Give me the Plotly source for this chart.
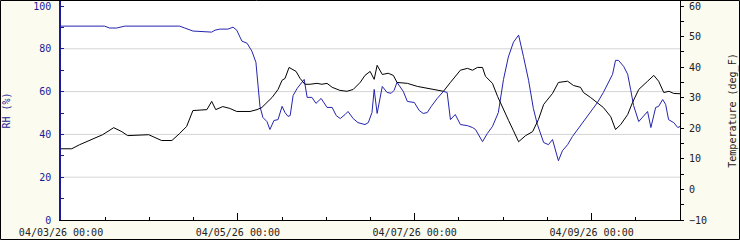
import pandas as pd
import plotly.graph_objects as go

# ---- data ----
start = "2026-04-03 00:00"

temp_hours = [0, 2.9, 5.0, 8.6, 11.3, 14.3, 16.5, 18.1, 23.8, 27.3, 30.1, 32.2, 34.1, 35.8, 39.6,
              40.9, 42.0, 43.9, 45.8, 47.7, 51.3, 53.2, 54.5, 57.3, 58.9, 60.0, 60.8, 61.9, 63.8,
              64.9, 66.2, 67.6, 69.5, 70.8, 72.2, 73.6, 75.7, 77.6, 79.3, 81.2, 82.5, 83.9, 85.0,
              85.8, 87.2, 88.8, 90.2, 91.2, 94.0, 96.7, 99.4, 102.1, 103.8, 105.7, 107.6, 108.4,
              110.3, 111.7, 113.0, 114.4, 115.2, 117.1, 118.5, 119.8, 121.5, 122.8, 124.2, 126.1,
              128.0, 129.6, 131.0, 133.4, 135.0, 137.5, 139.1, 141.0, 141.8, 143.7, 145.6, 147.2,
              149.2, 150.5, 151.9, 153.8, 155.1, 156.8, 159.2, 160.9, 162.2, 163.6, 165.0, 166.3,
              168.0]
temp_f = [13.3, 13.3, 14.6, 16.6, 17.9, 20.2, 18.9, 17.6, 17.9, 16.0, 16.0, 18.3, 20.6, 25.8, 26.1,
          28.8, 26.1, 27.1, 26.5, 25.5, 25.5, 26.1, 26.8, 30.1, 32.7, 35.7, 36.3, 39.9, 38.6,
          36.3, 34.4, 34.4, 34.7, 34.4, 34.7, 33.4, 32.4, 32.1, 32.7, 35.0, 37.3, 38.6, 36.0,
          40.6, 37.6, 38.0, 37.3, 35.0, 34.7, 33.7, 33.0, 32.4, 32.1, 35.0, 37.6, 39.0,
          39.6, 39.0, 39.9, 39.9, 37.0, 34.7, 30.4, 26.8, 22.5, 19.2, 15.6, 17.6,
          18.9, 22.9, 27.8, 31.4, 35.0, 35.4, 34.0, 33.4, 31.7, 30.1, 28.4, 26.8,
          23.8, 19.6, 21.2, 24.5, 28.4, 32.7, 35.4, 37.3, 35.4, 31.7, 32.1, 31.4,
          31.3]

rh_hours = [0, 11.8, 13.2, 15.1, 17.3, 32.2, 33.6, 35.8, 40.9, 41.8, 43.1, 45.3, 46.7, 47.7, 48.6,
            49.1, 50.5, 51.8, 52.9, 53.4, 54.0, 54.8, 55.9, 56.7, 57.8, 58.9, 60.0, 60.8, 61.6,
            62.2, 63.0, 64.1, 64.9, 66.0, 66.8, 68.1, 69.2, 70.6, 72.2, 73.6, 74.7, 75.8, 77.1,
            77.9, 79.3, 80.6, 82.5, 83.4, 84.4, 85.0, 85.8, 87.2, 88.5, 89.6, 90.4, 91.2, 92.9,
            94.0, 95.9, 97.2, 98.3, 99.4, 100.5, 102.1, 103.8, 104.8, 105.7, 107.0, 108.4, 110.3,
            111.7, 112.5, 114.4, 115.7, 117.1, 118.7, 120.1, 121.4, 122.8, 124.2, 125.5, 126.9,
            128.2, 129.3, 131.0, 132.3, 133.4, 134.2, 135.0, 136.1, 137.5, 138.8, 140.2, 141.8,
            143.7, 145.6, 147.2, 148.6, 149.7, 150.5, 151.3, 152.7, 153.8, 154.6, 155.4, 156.8,
            157.9, 159.2, 160.1, 161.4, 162.2, 163.3, 164.1, 164.9, 166.3, 167.4, 168.0]
rh_pct = [90.6, 90.6, 89.7, 89.7, 90.6, 90.6, 89.7, 88.3, 87.8, 88.7, 89.2, 89.2, 90.1, 88.7, 85.4,
          83.6, 82.6, 78.9, 73.7, 63.4, 53.1, 47.9, 46.0, 42.3, 46.5, 46.9, 53.1, 50.2, 48.4,
          48.8, 58.2, 61.5, 63.4, 65.7, 57.3, 57.3, 54.5, 56.8, 52.6, 52.6, 48.8, 47.4, 49.3,
          50.7, 47.4, 45.5, 44.6, 45.5, 50.2, 61.0, 49.8, 62.4, 59.6, 59.2, 60.6, 64.3, 60.1,
          55.4, 54.9, 51.2, 49.8, 50.2, 53.1, 56.8, 60.1, 59.6, 46.9, 49.3, 44.6, 44.1,
          43.2, 42.3, 36.6, 40.4, 43.7, 50.2, 65.7, 76.1, 83.1, 86.4, 76.5, 65.3,
          52.1, 44.6, 36.2, 35.2, 37.6, 32.9, 27.7, 32.4, 35.2, 39.0, 42.3, 45.5,
          50.2, 54.9, 59.6, 64.3, 68.1, 74.6, 74.6, 71.8, 68.1, 61.0, 53.5, 46.0,
          48.4, 50.7, 43.2, 52.6, 53.1, 56.3, 54.0, 46.9, 45.5, 43.2, 43.7]

rh_ticks = [0, 20, 40, 60, 80, 100]
rh_grid = [20, 40, 60, 80]
temp_ticks = [-10, 0, 10, 20, 30, 40, 50, 60]
x_tick_dates = ["2026-04-03", "2026-04-05", "2026-04-07", "2026-04-09"]

# ---- build ----
t0 = pd.Timestamp(start)
t_temp = t0 + pd.to_timedelta(temp_hours, unit="h")
t_rh = t0 + pd.to_timedelta(rh_hours, unit="h")

BG = "#FCFBF0"
BLUE = "#2424AE"
NAVY = "#1A1A96"
FONT = "DejaVu Sans Mono"

fig = go.Figure()
fig.add_trace(go.Scatter(x=t_rh, y=rh_pct, mode="lines", yaxis="y",
                         line=dict(color=BLUE, width=1), name="RH"))
fig.add_trace(go.Scatter(x=t_temp, y=temp_f, mode="lines", yaxis="y2",
                         line=dict(color="#000000", width=1), name="Temperature"))

L, R, T, B = 61, 60, 1, 20
W, H = 740, 240
pw, ph = W - L - R, H - T - B

fig.update_layout(
    width=W, height=H,
    margin=dict(l=L, r=R, t=T, b=B, pad=0),
    paper_bgcolor=BG, plot_bgcolor="#FFFFFF",
    showlegend=False,
    font=dict(family=FONT, size=10, color="#222222"),
    xaxis=dict(
        type="date",
        range=[t0, t0 + pd.Timedelta(days=7)],
        tickvals=pd.to_datetime(x_tick_dates),
        ticktext=[pd.Timestamp(d).strftime("%m/%d/%y %H:%M") for d in x_tick_dates],
        ticks="inside", ticklen=7, tickcolor="#000000",
        minor=dict(dtick=12 * 3600 * 1000, ticks="inside", ticklen=3, tickcolor="#000000",
                   showgrid=False),
        showline=True, linecolor="#000000", linewidth=1,
        showgrid=False, zeroline=False,
        tickfont=dict(family=FONT, size=10, color="#222222"),
        ticklabelstandoff=3,
    ),
    yaxis=dict(
        range=[0, 100 * ph / 214],
        tickvals=rh_ticks,
        ticks="inside", ticklen=3, tickcolor=NAVY,
        minor=dict(dtick=10, ticks="inside", ticklen=3, tickcolor=NAVY, showgrid=False),
        showline=True, linecolor=NAVY, linewidth=1.5,
        showgrid=False, zeroline=False,
        tickfont=dict(family=FONT, size=10, color=NAVY),
        title=dict(text="RH (%)", font=dict(family=FONT, size=10, color=NAVY), standoff=21),
        ticklabelstandoff=6,
    ),
    yaxis2=dict(
        range=[-10, -10 + 70 * ph / 214],
        overlaying="y", side="right",
        tickvals=temp_ticks,
        ticks="outside", ticklen=3, tickcolor="#000000",
        minor=dict(dtick=5, ticks="outside", ticklen=3, tickcolor="#000000", showgrid=False),
        showline=True, linecolor="#000000", linewidth=1,
        showgrid=False, zeroline=False,
        tickfont=dict(family=FONT, size=10, color="#222222"),
        title=dict(text="Temperature (deg_F)", font=dict(family=FONT, size=10, color="#222222"),
                   standoff=22),
        ticklabelstandoff=3,
    ),
)

# light horizontal gridlines for RH
for g in rh_grid:
    fig.add_shape(type="line", xref="paper", yref="y", x0=0, x1=1, y0=g, y1=g,
                  line=dict(color="#D4D4D4", width=1), layer="below")

# thin frame around the whole image
fig.add_shape(type="rect", xref="paper", yref="paper",
              x0=(0.5 - L) / pw, x1=(W - 0.5 - L) / pw,
              y0=(H - B - (H - 0.5)) / ph, y1=(H - B - 0.5) / ph,
              line=dict(color="#000000", width=1), fillcolor="rgba(0,0,0,0)")

fig.write_html("out.html")
